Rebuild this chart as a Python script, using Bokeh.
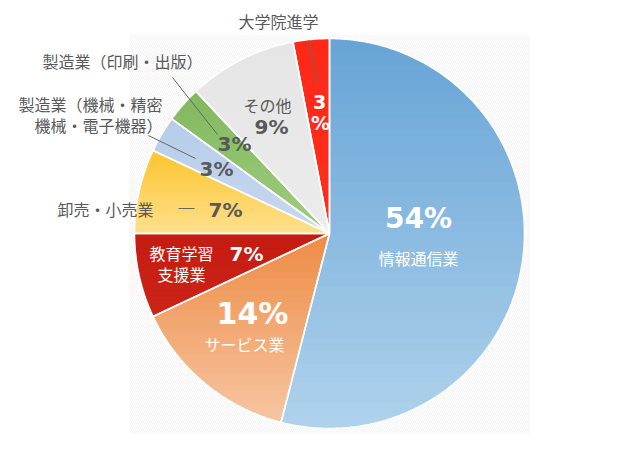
import numpy as np
from bokeh.plotting import figure
from bokeh.models import Range1d
from bokeh.core.properties import value
from bokeh.embed import file_html
from bokeh.resources import INLINE

# ---- data ----
categories = ["情報通信業", "サービス業", "教育学習支援業", "卸売・小売業",
              "製造業（機械・精密機械・電子機器）", "製造業（印刷・出版）", "その他", "大学院進学"]
shares = [54, 14, 7, 7, 3, 3, 9, 3]
pct_labels = [f"{s}%" for s in shares]

# ---- styles ----
grad = [("#67a4d6", "#afd2ec"), ("#ee8b44", "#f7c6a3"), ("#c41c12", "#cc2418"),
        ("#fdc52e", "#fee08e"), ("#b6cce9", "#c8d9ef"), ("#82b85e", "#9fcd80"),
        ("#e5e5e5", "#ececec"), ("#ff2817", "#ff2f1e")]

FONT = value("Noto Sans CJK JP")
NUMFONT = value("DejaVu Sans")
GRAY = "#595959"

def Y(py):
    return 450 - py

p = figure(width=614, height=434, x_range=Range1d(0, 614), y_range=Range1d(16, 450),
           output_backend="svg", toolbar_location=None, min_border=0)
p.axis.visible = False
p.grid.visible = False
p.outline_line_color = None
p.background_fill_color = "white"
p.border_fill_color = "white"

# hatched backdrop
p.quad(left=129, right=529, bottom=Y(434), top=Y(35), fill_color="#f0f0f0", line_color=None,
       hatch_pattern="\\", hatch_color="white", hatch_scale=4, hatch_weight=1.2)

cx, cy, R = 329, Y(233), 195

def hexlerp(a, b, t):
    ca = [int(a[i:i + 2], 16) for i in (1, 3, 5)]
    cb = [int(b[i:i + 2], 16) for i in (1, 3, 5)]
    return "#%02x%02x%02x" % tuple(int(round(x + (y - x) * t)) for x, y in zip(ca, cb))

def clip(poly, y0, above):
    out = []
    n = len(poly)
    for i in range(n):
        P, Q = poly[i], poly[(i + 1) % n]
        inP = P[1] >= y0 if above else P[1] <= y0
        inQ = Q[1] >= y0 if above else Q[1] <= y0
        if inP:
            out.append(P)
        if inP != inQ:
            t = (y0 - P[1]) / (Q[1] - P[1])
            out.append((P[0] + t * (Q[0] - P[0]), y0))
    return out

cum = np.concatenate([[0], np.cumsum(shares)]) / sum(shares) * 2 * np.pi
sx, sy, sc = [], [], []
ox, oy = [], []
for i in range(len(shares)):
    a0, a1 = cum[i], cum[i + 1]
    n = max(6, int(np.degrees(a1 - a0) * 2))
    th = np.linspace(a0, a1, n)
    poly = [(cx, cy)] + [(cx + R * np.sin(t), cy + R * np.cos(t)) for t in th]
    ox.append([q[0] for q in poly])
    oy.append([q[1] for q in poly])
    ys = [q[1] for q in poly]
    ymin, ymax = min(ys), max(ys)
    nb = 30
    edges = np.linspace(ymin, ymax, nb + 1)
    for b in range(nb):
        part = clip(poly, edges[b] - 0.8, True)
        if len(part) < 3:
            continue
        part = clip(part, edges[b + 1], False)
        if len(part) < 3:
            continue
        t = (ymax - 0.5 * (edges[b] + edges[b + 1])) / (ymax - ymin)
        sx.append([q[0] for q in part])
        sy.append([q[1] for q in part])
        sc.append(hexlerp(grad[i][0], grad[i][1], t))

p.patches(sx, sy, fill_color=sc, line_color=None)
p.patches(ox, oy, fill_color=None, line_color="white", line_width=1.6)

# leader lines
p.segment(x0=[172, 148, 308], y0=[Y(77), Y(135), Y(40)],
          x1=[217, 195, 317], y1=[Y(134), Y(158), Y(82)], line_color="#666666", line_width=1)
p.segment(x0=[178], y0=[Y(208)], x1=[194], y1=[Y(208)], line_color="#666666", line_width=1)

def txt(x, y, s, size, color, font=FONT, bold=False, align="center"):
    p.text(x=[x], y=[Y(y)], text=[s], text_font=font, text_font_size=f"{size}px",
           text_color=color, text_align=align, text_baseline="middle",
           text_font_style="bold" if bold else "normal")

# inside labels
txt(418, 218, pct_labels[0], 28, "white", NUMFONT, True)
txt(418, 257, categories[0], 16, "white")
txt(252, 313, pct_labels[1], 30, "white", NUMFONT, True)
txt(244, 343, categories[1], 16, "white")
txt(181, 252, "教育学習", 16, "white")
txt(181, 273, "支援業", 16, "white")
txt(246, 253, pct_labels[2], 20, "white", NUMFONT, True)
txt(319, 101, pct_labels[7][:-1], 19, "white", NUMFONT, True)
txt(320, 122, "%", 19, "white", NUMFONT, True)

# outside / gray labels
txt(105, 208, categories[3], 16, GRAY)
txt(225, 209, pct_labels[3], 20, GRAY, NUMFONT, True)
txt(162, 103, "製造業（機械・精密", 16, GRAY, align="right")
txt(162, 124, "機械・電子機器）", 16, GRAY, align="right")
txt(216, 168, pct_labels[4], 20, GRAY, NUMFONT, True)
txt(122, 60, categories[5], 16, GRAY)
txt(234, 143, pct_labels[5], 20, GRAY, NUMFONT, True)
txt(267, 104, categories[6], 16, GRAY)
txt(271, 126, pct_labels[6], 20, GRAY, NUMFONT, True)
txt(278, 20, categories[7], 16, GRAY)

open("out.html", "w").write(file_html(p, INLINE))
